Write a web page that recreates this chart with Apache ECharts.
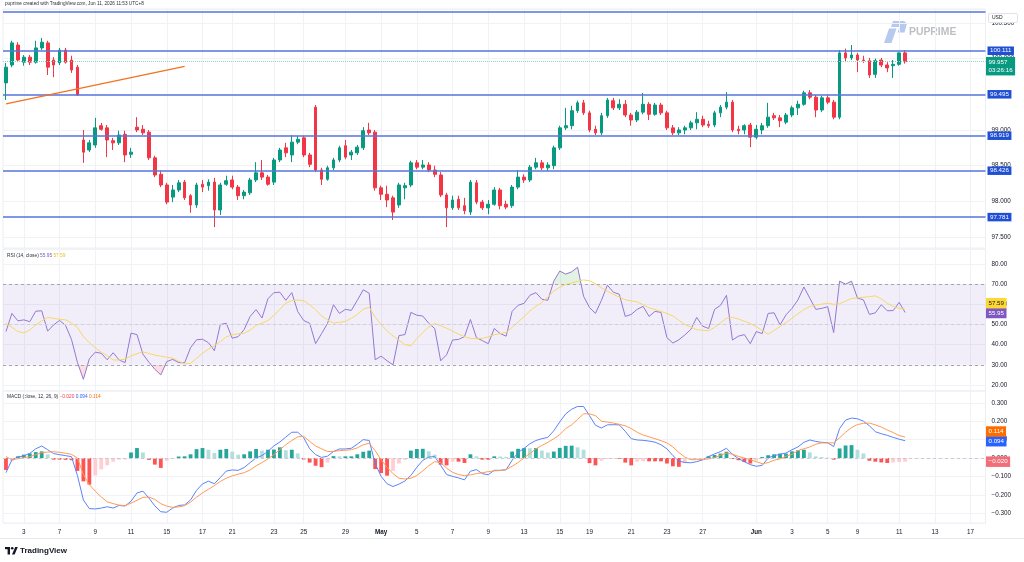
<!DOCTYPE html>
<html>
<head>
<meta charset="utf-8">
<title>USD index 4h</title>
<script src="https://cdn.jsdelivr.net/npm/echarts@6/dist/echarts.min.js"></script>
<style>
  html, body { margin: 0; padding: 0; background: #fff; }
  #chart { width: 1024px; height: 562px; }
</style>
</head>
<body>
<div id="chart"></div>
<script>
// 4h candles, [open, close, low, high]
const candles = [
  [99.66,99.88,99.42,99.94],[99.91,100.22,99.88,100.25],[100.19,99.98,99.95,100.23],[99.95,100.02,99.90,100.05],[100.02,99.95,99.91,100.05],[99.95,100.15,99.93,100.25],[100.15,100.23,100.12,100.29],[100.22,99.88,99.77,100.25],[99.98,99.91,99.74,100.02],[99.94,100.12,99.91,100.15],
  [100.12,99.95,99.93,100.15],[99.98,99.84,99.80,100.04],[99.88,99.49,99.48,99.91],[98.86,98.69,98.54,99.00],[98.72,98.82,98.69,98.86],[98.79,99.03,98.75,99.17],[99.06,99.01,98.99,99.10],[99.03,98.86,98.62,99.07],[98.85,98.82,98.72,98.89],[98.82,98.93,98.79,98.99],
  [98.94,98.65,98.55,98.99],[98.66,98.69,98.61,98.75],[99.04,99.00,98.97,99.18],[99.01,98.96,98.93,99.07],[98.97,98.61,98.58,99.00],[98.61,98.37,98.34,98.64],[98.38,98.23,98.20,98.43],[98.23,97.99,97.96,98.26],[98.06,98.16,97.99,98.23],[98.16,98.26,98.13,98.30],
  [98.27,98.05,98.02,98.30],[98.08,97.95,97.84,98.10],[97.95,98.23,97.91,98.26],[98.24,98.20,98.13,98.30],[98.22,98.27,98.15,98.31],[98.27,97.88,97.64,98.33],[97.88,98.23,97.81,98.26],[98.24,98.29,98.22,98.36],[98.30,98.20,98.17,98.36],[98.20,98.08,98.02,98.23],
  [98.08,98.13,98.03,98.16],[98.12,98.30,98.09,98.33],[98.30,98.40,98.27,98.55],[98.40,98.34,98.30,98.58],[98.34,98.24,98.22,98.37],[98.27,98.58,98.23,98.61],[98.58,98.72,98.55,98.75],[98.75,98.68,98.62,98.82],[98.65,98.83,98.55,98.93],[98.83,98.87,98.80,98.92],
  [98.89,98.65,98.62,98.92],[98.65,98.52,98.48,98.68],[99.32,98.44,98.41,99.35],[98.44,98.31,98.23,98.47],[98.31,98.47,98.29,98.50],[98.47,98.58,98.44,98.61],[98.58,98.75,98.55,98.78],[98.78,98.62,98.59,98.86],[98.65,98.69,98.58,98.72],[98.68,98.76,98.65,98.79],
  [98.75,98.99,98.72,99.04],[99.00,98.96,98.93,99.10],[98.97,98.19,98.15,99.00],[98.19,98.10,98.02,98.22],[98.10,98.02,97.92,98.22],[98.05,97.85,97.74,98.08],[97.95,98.23,97.91,98.26],[98.19,98.22,98.03,98.26],[98.23,98.54,98.20,98.57],[98.54,98.48,98.45,98.58],
  [98.48,98.51,98.45,98.58],[98.51,98.44,98.41,98.55],[98.44,98.38,98.34,98.50],[98.37,98.09,98.06,98.41],[98.09,97.91,97.64,98.12],[97.91,98.02,97.88,98.08],[98.03,97.91,97.88,98.08],[97.94,97.87,97.82,98.05],[97.85,98.27,97.81,98.30],[98.26,97.99,97.96,98.30],
  [97.99,97.91,97.88,98.02],[97.91,97.96,97.82,98.02],[97.96,98.16,97.94,98.20],[98.16,97.94,97.89,98.19],[97.96,97.92,97.89,98.01],[97.94,98.20,97.91,98.23],[98.20,98.34,98.17,98.44],[98.34,98.30,98.26,98.38],[98.30,98.48,98.27,98.51],[98.48,98.54,98.45,98.61],
  [98.54,98.47,98.44,98.58],[98.47,98.51,98.43,98.55],[98.50,98.75,98.45,98.78],[98.75,99.03,98.72,99.06],[99.03,99.06,99.00,99.31],[99.06,99.27,99.01,99.34],[99.27,99.38,99.24,99.41],[99.38,99.24,99.21,99.42],[99.24,99.00,98.97,99.27],[99.01,98.96,98.93,99.06],
  [98.96,99.20,98.93,99.24],[99.20,99.42,99.17,99.45],[99.41,99.31,99.28,99.45],[99.31,99.36,99.28,99.43],[99.36,99.21,99.18,99.42],[99.21,99.14,99.06,99.24],[99.14,99.25,99.11,99.28],[99.25,99.36,99.22,99.52],[99.36,99.22,99.14,99.39],[99.22,99.35,99.20,99.38],
  [99.35,99.24,99.21,99.38],[99.24,99.03,99.00,99.27],[99.03,98.96,98.93,99.07],[98.96,99.00,98.93,99.04],[99.00,99.03,98.94,99.06],[99.03,99.10,99.00,99.13],[99.10,99.15,99.01,99.25],[99.15,99.07,99.04,99.20],[99.08,99.06,99.03,99.13],[99.07,99.24,99.04,99.27],
  [99.24,99.32,99.18,99.35],[99.32,99.39,99.29,99.53],[99.39,99.00,98.97,99.42],[99.01,98.99,98.94,99.06],[99.00,99.06,98.94,99.08],[99.07,98.90,98.76,99.10],[98.90,99.01,98.87,99.07],[99.00,99.06,98.94,99.10],[99.06,99.18,99.03,99.38],[99.20,99.17,99.14,99.24],
  [99.17,99.13,99.04,99.21],[99.11,99.21,99.08,99.24],[99.21,99.31,99.18,99.34],[99.31,99.36,99.21,99.41],[99.36,99.52,99.34,99.55],[99.52,99.46,99.43,99.56],[99.46,99.28,99.18,99.49],[99.28,99.45,99.25,99.48],[99.45,99.39,99.36,99.49],[99.39,99.18,99.15,99.42],
  [99.18,100.08,99.15,100.12],[100.08,100.01,99.95,100.14],[100.01,100.05,99.98,100.19],[100.05,99.98,99.81,100.08],[99.98,99.97,99.94,100.04],[99.97,99.77,99.73,100.01],[99.78,99.97,99.73,100.00],[99.98,99.91,99.88,100.01],[99.91,99.87,99.81,99.95],[99.90,99.92,99.73,99.98],
  [99.92,100.08,99.90,100.09],[100.08,99.957,99.93,100.12]
];

// RSI (14, close) and its moving average
const rsi = [
  46.5,55.5,51.8,52.3,51.4,56.6,56.8,46.7,49.8,52.0,
  49.6,42.6,31.2,22.8,33.0,36.3,35.7,32.5,36.0,32.4,
  31.1,45.7,45.0,35.3,31.3,27.8,25.0,31.6,32.7,31.1,
  31.0,38.5,42.4,42.7,41.0,37.0,50.0,50.6,43.2,44.0,
  47.5,54.0,57.4,53.2,62.8,65.8,66.0,62.0,65.8,56.4,
  52.0,50.6,40.5,45.5,50.5,59.8,55.5,57.5,57.0,62.0,
  67.2,65.5,32.5,34.3,32.0,30.0,44.5,45.0,56.0,54.6,
  54.2,50.6,48.0,32.0,35.0,42.3,42.6,44.0,52.5,43.5,
  42.0,40.5,48.0,45.5,44.2,56.5,59.5,60.5,64.5,65.8,
  62.5,62.0,71.5,76.5,75.0,76.1,78.4,64.0,58.4,55.5,
  62.0,69.5,66.0,65.0,54.0,55.0,57.5,59.0,54.0,56.5,
  56.0,43.5,40.8,42.4,44.8,47.5,53.5,49.2,48.0,57.5,
  59.5,64.5,42.3,44.2,45.0,40.5,46.5,45.5,55.5,55.8,
  49.8,54.8,58.0,62.2,68.6,63.0,57.5,58.0,58.8,46.0,
  71.5,70.0,71.5,63.1,62.2,55.0,55.8,59.8,56.8,56.9,
  61.0,55.95
];
const rsiMa = [
  50.6,48.6,46.5,45.8,47.3,49.8,51.8,53.5,53.0,52.6,
  52.3,50.8,48.5,44.0,41.0,38.4,36.3,34.5,32.4,32.4,
  32.8,34.4,35.5,36.5,35.6,34.8,34.3,33.8,33.3,31.8,
  30.5,30.7,33.2,35.7,37.8,39.4,41.5,43.9,44.8,45.4,
  45.6,47.2,49.6,50.6,52.0,54.5,57.5,60.6,61.8,62.1,
  61.8,59.8,57.4,54.2,52.3,50.7,51.1,51.5,53.1,54.9,
  57.6,58.5,53.6,50.0,46.8,44.3,42.2,40.0,39.4,43.0,
  46.0,48.8,50.5,49.4,48.2,46.7,45.2,44.0,43.1,42.9,
  43.1,43.9,44.9,45.5,46.1,48.6,51.2,53.9,56.8,59.0,
  61.0,63.6,66.6,68.5,69.8,70.6,71.4,72.1,71.7,70.2,
  68.2,66.5,64.9,63.6,62.3,61.7,61.2,59.8,58.3,57.4,
  56.5,55.4,54.2,52.1,50.0,48.7,47.4,47.2,46.9,48.6,
  50.8,53.1,53.5,52.7,51.6,50.5,48.9,47.0,45.2,47.1,
  49.0,51.0,53.1,55.3,57.4,58.9,59.6,60.1,60.6,60.0,
  60.3,61.6,62.9,63.2,63.5,63.8,64.2,62.7,60.5,58.9,
  58.0,57.59
];

// MACD (close, 12, 26, 9)
const macd = [
  -0.080,-0.010,0.005,0.012,0.025,0.050,0.065,0.045,0.024,0.018,
  0.013,0.007,-0.095,-0.228,-0.275,-0.277,-0.272,-0.265,-0.272,-0.258,
  -0.261,-0.235,-0.190,-0.180,-0.218,-0.260,-0.292,-0.295,-0.272,-0.258,
  -0.255,-0.228,-0.176,-0.141,-0.126,-0.140,-0.106,-0.071,-0.065,-0.067,
  -0.052,-0.025,0.000,0.013,0.036,0.066,0.087,0.114,0.140,0.140,
  0.110,0.050,0.018,0.003,0.010,0.035,0.049,0.049,0.053,0.075,
  0.100,0.095,-0.030,-0.100,-0.140,-0.155,-0.142,-0.125,-0.095,-0.050,
  -0.013,0.005,0.008,-0.040,-0.090,-0.100,-0.108,-0.119,-0.072,-0.063,
  -0.085,-0.091,-0.067,-0.067,-0.064,-0.012,0.030,0.052,0.078,0.095,
  0.105,0.112,0.148,0.196,0.240,0.265,0.280,0.280,0.230,0.178,
  0.163,0.180,0.181,0.180,0.145,0.105,0.098,0.096,0.092,0.086,
  0.072,0.050,0.013,-0.017,-0.024,-0.026,-0.020,-0.010,0.008,0.022,
  0.035,0.053,0.020,-0.003,-0.020,-0.036,-0.045,-0.040,0.000,0.013,
  0.020,0.027,0.045,0.060,0.085,0.098,0.090,0.085,0.083,0.062,
  0.160,0.206,0.217,0.213,0.200,0.175,0.143,0.132,0.123,0.112,
  0.102,0.094
];
const signal = [
  0.008,-0.010,-0.004,0.002,0.007,0.018,0.029,0.032,0.034,0.031,
  0.026,0.020,0.000,-0.090,-0.145,-0.180,-0.212,-0.238,-0.248,-0.256,
  -0.259,-0.245,-0.230,-0.214,-0.212,-0.225,-0.248,-0.262,-0.268,-0.266,
  -0.259,-0.240,-0.213,-0.190,-0.170,-0.150,-0.127,-0.110,-0.097,-0.088,
  -0.080,-0.065,-0.043,-0.025,-0.005,0.018,0.045,0.072,0.095,0.115,
  0.118,0.090,0.065,0.050,0.035,0.036,0.040,0.042,0.045,0.055,
  0.072,0.080,0.040,-0.010,-0.050,-0.085,-0.110,-0.114,-0.110,-0.095,
  -0.070,-0.042,-0.020,-0.025,-0.055,-0.078,-0.090,-0.096,-0.092,-0.085,
  -0.080,-0.074,-0.070,-0.068,-0.063,-0.045,-0.025,0.000,0.025,0.050,
  0.068,0.085,0.105,0.127,0.160,0.180,0.210,0.240,0.240,0.230,
  0.200,0.195,0.190,0.183,0.175,0.160,0.140,0.125,0.115,0.105,
  0.094,0.082,0.060,0.030,0.005,-0.009,-0.009,-0.009,-0.005,0.002,
  0.015,0.027,0.020,0.009,0.000,-0.009,-0.020,-0.031,-0.025,-0.012,
  -0.005,0.010,0.020,0.040,0.050,0.060,0.075,0.082,0.082,0.082,
  0.110,0.140,0.165,0.182,0.188,0.190,0.180,0.168,0.152,0.138,
  0.122,0.114
];
const hist = [
  -0.065,-0.015,0.009,0.018,0.025,0.032,0.036,0.020,-0.009,-0.009,
  -0.010,-0.012,-0.070,-0.127,-0.145,-0.095,-0.062,-0.040,-0.020,-0.009,
  -0.008,0.030,0.054,0.030,-0.010,-0.036,-0.054,-0.015,-0.004,0.008,
  0.009,0.020,0.048,0.054,0.045,0.027,0.045,0.049,0.035,0.018,
  0.020,0.036,0.049,0.040,0.045,0.046,0.058,0.042,0.045,0.025,
  -0.008,-0.025,-0.042,-0.050,-0.025,0.010,0.009,0.009,0.009,0.020,
  0.034,0.040,-0.060,-0.082,-0.096,-0.070,-0.030,-0.010,0.040,0.049,
  0.050,0.036,0.018,-0.036,-0.040,-0.020,-0.020,-0.027,0.020,0.009,
  -0.009,-0.009,0.009,0.008,0.006,0.035,0.050,0.054,0.053,0.054,
  0.040,0.030,0.035,0.055,0.066,0.067,0.058,0.045,-0.028,-0.040,
  -0.015,-0.005,-0.003,-0.004,-0.025,-0.040,-0.020,-0.018,-0.018,-0.018,
  -0.018,-0.030,-0.045,-0.048,-0.028,-0.010,-0.005,-0.003,0.010,0.016,
  0.024,0.034,-0.005,-0.012,-0.022,-0.030,-0.014,0.005,0.015,0.020,
  0.024,0.024,0.036,0.042,0.045,0.030,0.009,0.005,0.002,-0.009,
  0.052,0.068,0.070,0.045,0.025,-0.015,-0.020,-0.024,-0.027,-0.024,
  -0.022,-0.020
];

// drawn levels
const levels = [100.111, 99.495, 98.919, 98.426, 97.781];
const topLevel = 100.653;
const trendLine = [[0, 99.366], [30, 99.890]];
const rsiLevels = [30, 50, 70];

// time scale: 165 four-hour slots, day labels on some of them
const slotCount = 165;
const tickIdx = [3, 9, 15, 21, 27, 33, 38, 45, 50, 57, 63, 69, 75, 81, 87, 93, 98, 105, 111, 117, 126, 132, 138, 143, 150, 156, 162];
const tickText = ['3', '7', '9', '11', '15', '17', '21', '23', '25', '29', 'May', '5', '7', '9', '13', '15', '19', '21', '23', '27', 'Jun', '3', '5', '9', '11', '13', '17'];
const countdown = '03:26:16';

const cats = Array.from({ length: slotCount }, (_, i) => String(i));
const tickMap = {};
tickIdx.forEach((k, j) => { tickMap[k] = tickText[j]; });
const isTick = (i) => tickMap[i] !== undefined;
const last = (arr) => arr[arr.length - 1];
const lastClose = last(candles)[1];
const fmtMacd = (v) => (v < 0 ? '\u2212' : '') + Math.abs(v).toFixed(3);

const font = 'Liberation Sans, Arial, sans-serif';
const chart = echarts.init(document.getElementById('chart'));

function xAxisFor(gi, showLabel) {
  return {
    type: 'category', gridIndex: gi, data: cats, boundaryGap: true,
    axisLine: { show: false },
    axisTick: { show: false, alignWithLabel: true },
    axisLabel: {
      show: showLabel, interval: (i) => isTick(i), margin: 6, fontSize: 6.3, color: '#131722',
      formatter: (v) => {
        const t = tickMap[+v];
        if (t === undefined) return '';
        return /^[A-Z]/.test(t) ? '{m|' + t + '}' : t;
      },
      rich: { m: { fontWeight: 'bold', fontSize: 6.3, color: '#131722' } }
    },
    splitLine: { show: true, alignWithLabel: true, interval: (i) => isTick(i), lineStyle: { color: '#f0f2f6', width: 1 } }
  };
}

function yAxisFor(gi, min, max, step, fmt) {
  return {
    type: 'value', gridIndex: gi, position: 'right', min: min, max: max, splitNumber: 5,
    axisLine: { show: false }, axisTick: { show: false },
    axisLabel: {
      margin: 6, fontSize: 6.3, color: '#131722', showMinLabel: false, showMaxLabel: false,
      formatter: (v) => Math.abs(v / step - Math.round(v / step)) > 1e-6 ? '' : fmt(v)
    },
    splitLine: { lineStyle: { color: '#f0f2f6', width: 1 } }
  };
}

// value tag on the right price scale
function tag(value, bg, fg, text, dy) {
  return {
    coord: [slotCount - 1, value],
    symbol: 'rect', symbolSize: 1, itemStyle: { color: 'rgba(0,0,0,0)' },
    label: {
      show: true, position: 'right', distance: 3, offset: [0, dy],
      formatter: text, backgroundColor: bg, color: fg, fontSize: 6.2, lineHeight: 8,
      padding: [1.5, 2.5, 1, 2.5], fontFamily: font
    }
  };
}

const levelLabel = {
  show: true, position: 'end', distance: 2, color: '#fff', backgroundColor: '#1f4fd4',
  fontSize: 6.2, padding: [1.5, 2.5, 1, 2.5], fontFamily: font
};

const gridBase = { left: 3, right: 38.5, show: true, borderColor: '#eceef2', borderWidth: 1, outerBoundsMode: 'none' };

const option = {
  animation: false,
  textStyle: { fontFamily: font },
  grid: [
    Object.assign({ top: 9, height: 239 }, gridBase),
    Object.assign({ top: 249, height: 142 }, gridBase),
    Object.assign({ top: 391, height: 132 }, gridBase)
  ],
  xAxis: [xAxisFor(0, false), xAxisFor(1, false), xAxisFor(2, true)],
  yAxis: [
    yAxisFor(0, 97.3473, 100.6947, 0.5, (v) => v.toFixed(3)),
    yAxisFor(1, 17.02, 87.44, 10, (v) => v.toFixed(2)),
    yAxisFor(2, -0.3533, 0.3641, 0.1, fmtMacd)
  ],
  visualMap: [
    {
      type: 'piecewise', show: false, seriesIndex: 6, dimension: 1,
      pieces: [{ gt: rsiLevels[2], lte: 100, color: 'rgba(76,175,80,0.16)' }], outOfRange: { color: 'rgba(0,0,0,0)' }
    },
    {
      type: 'piecewise', show: false, seriesIndex: 7, dimension: 1,
      pieces: [{ gte: 0, lt: rsiLevels[0], color: 'rgba(242,54,69,0.16)' }], outOfRange: { color: 'rgba(0,0,0,0)' }
    }
  ],
  series: [
    {
      name: 'price', type: 'candlestick', xAxisIndex: 0, yAxisIndex: 0, data: candles, barWidth: 3.2,
      itemStyle: { color: '#089981', color0: '#f23645', borderColor: '#089981', borderColor0: '#f23645', borderWidth: 1 },
      markLine: {
        silent: true, symbol: ['none', 'none'], animation: false,
        data: [
          ...levels.map((v) => ({
            yAxis: v, lineStyle: { color: '#5675dc', width: 1.5, type: 'solid' },
            label: Object.assign({ formatter: v.toFixed(3) }, levelLabel)
          })),
          { yAxis: topLevel, lineStyle: { color: '#5675dc', width: 1.5, type: 'solid' }, label: { show: false } },
          { yAxis: lastClose, lineStyle: { color: '#8fd4c9', width: 1, type: 'dotted' }, label: { show: false } },
          [
            { coord: trendLine[0], lineStyle: { color: '#f3711f', width: 1.2, type: 'solid' }, label: { show: false } },
            { coord: trendLine[1], label: { show: false } }
          ]
        ]
      },
      markPoint: {
        silent: true, animation: false,
        data: [tag(lastClose, '#089981', '#fff', lastClose.toFixed(3) + '\n' + countdown, 4.5)]
      }
    },
    {
      name: 'RSI', type: 'line', xAxisIndex: 1, yAxisIndex: 1, data: rsi, symbol: 'none', z: 3,
      lineStyle: { color: '#9377d2', width: 1 },
      markArea: {
        silent: true, itemStyle: { color: 'rgba(126,87,194,0.10)' },
        data: [[{ yAxis: rsiLevels[0] }, { yAxis: rsiLevels[2] }]]
      },
      markLine: {
        silent: true, symbol: ['none', 'none'], animation: false, label: { show: false },
        data: [
          { yAxis: rsiLevels[2], lineStyle: { color: '#a3a6af', width: 1, type: [3, 3] } },
          { yAxis: rsiLevels[1], lineStyle: { color: '#cfd1d8', width: 1, type: [3, 3] } },
          { yAxis: rsiLevels[0], lineStyle: { color: '#a3a6af', width: 1, type: [3, 3] } }
        ]
      },
      markPoint: { silent: true, animation: false, data: [tag(last(rsi), '#7e57c2', '#fff', last(rsi).toFixed(2), 0.5)] }
    },
    {
      name: 'RSI MA', type: 'line', xAxisIndex: 1, yAxisIndex: 1, data: rsiMa, symbol: 'none', z: 3,
      lineStyle: { color: '#f6d765', width: 1 },
      markPoint: { silent: true, animation: false, data: [tag(last(rsiMa), '#fdd835', '#131722', last(rsiMa).toFixed(2), -6)] }
    },
    {
      name: 'Histogram', type: 'bar', xAxisIndex: 2, yAxisIndex: 2, data: hist, barWidth: 3.8,
      itemStyle: {
        color: (p) => {
          const v = hist[p.dataIndex];
          const prev = p.dataIndex > 0 ? hist[p.dataIndex - 1] : v;
          if (v >= 0) return v >= prev ? '#26a69a' : '#b2dfdb';
          return v <= prev ? '#ff5252' : '#ffcdd2';
        }
      },
      markLine: {
        silent: true, symbol: ['none', 'none'], animation: false, label: { show: false },
        data: [{ yAxis: 0, lineStyle: { color: '#c9cbd2', width: 1, type: [3, 3] } }]
      },
      markPoint: { silent: true, animation: false, data: [tag(last(hist), '#f26d77', '#fff', fmtMacd(last(hist)), 0)] }
    },
    {
      name: 'MACD', type: 'line', xAxisIndex: 2, yAxisIndex: 2, data: macd, symbol: 'none',
      lineStyle: { color: '#5a82fb', width: 1 },
      markPoint: { silent: true, animation: false, data: [tag(last(macd), '#2962ff', '#fff', fmtMacd(last(macd)), 0.5)] }
    },
    {
      name: 'Signal', type: 'line', xAxisIndex: 2, yAxisIndex: 2, data: signal, symbol: 'none',
      lineStyle: { color: '#ff9a52', width: 1 },
      markPoint: { silent: true, animation: false, data: [tag(last(signal), '#ff6d00', '#fff', fmtMacd(last(signal)), -5.5)] }
    },
    {
      name: 'RSI overbought', type: 'line', xAxisIndex: 1, yAxisIndex: 1, data: rsi, symbol: 'none', z: 1,
      lineStyle: { width: 0 }, areaStyle: { origin: rsiLevels[2], opacity: 1 }, silent: true
    },
    {
      name: 'RSI oversold', type: 'line', xAxisIndex: 1, yAxisIndex: 1, data: rsi, symbol: 'none', z: 1,
      lineStyle: { width: 0 }, areaStyle: { origin: rsiLevels[0], opacity: 1 }, silent: true
    }
  ],
  graphic: [
    {
      type: 'text', x: 5, y: 1.5,
      style: { text: 'puprime created with TradingView.com, Jun 11, 2026 11:53 UTC+8', fill: '#2a2e39', font: '4.7px ' + font, textVerticalAlign: 'top', verticalAlign: 'top' }
    },
    {
      type: 'rect', shape: { x: 988.5, y: 13.5, width: 29, height: 9, r: 1.5 },
      style: { fill: '#fff', stroke: '#e0e3eb', lineWidth: 1 }, z: 100
    },
    {
      type: 'text', x: 992, y: 18, z: 101,
      style: { text: 'USD', fill: '#131722', font: '5px ' + font, textVerticalAlign: 'middle', verticalAlign: 'middle' }
    },
    {
      type: 'polygon', shape: { points: [[889, 28.5], [896.5, 28.5], [891.5, 43], [884, 43]] },
      style: { fill: '#b7c9ef' }
    },
    {
      type: 'polygon', shape: { points: [[893, 21], [904, 21], [907, 23.5], [904.5, 32.5], [897.5, 32.5], [899.5, 27], [891, 27]] },
      style: { fill: '#b7c9ef' }
    },
    {
      type: 'text', x: 909, y: 32.5,
      style: { text: 'PUPRIME', fill: '#bdbfc3', font: 'bold 10.4px ' + font, textVerticalAlign: 'middle', verticalAlign: 'middle' }
    },
    {
      type: 'text', x: 7, y: 256,
      style: {
        text: '{a|RSI (14, close)} {b|' + last(rsi).toFixed(2) + '} {c|' + last(rsiMa).toFixed(2) + '}',
        font: '4.8px ' + font, textVerticalAlign: 'middle', verticalAlign: 'middle',
        rich: {
          a: { fill: '#2a2e39', color: '#2a2e39', font: '4.8px ' + font },
          b: { fill: '#7e57c2', color: '#7e57c2', font: '4.8px ' + font },
          c: { fill: '#e8c31c', color: '#e8c31c', font: '4.8px ' + font }
        }
      }
    },
    {
      type: 'text', x: 7, y: 397,
      style: {
        text: '{a|MACD (close, 12, 26, 9)} {h|' + fmtMacd(last(hist)) + '} {m|' + fmtMacd(last(macd)) + '} {s|' + fmtMacd(last(signal)) + '}',
        font: '4.8px ' + font, textVerticalAlign: 'middle', verticalAlign: 'middle',
        rich: {
          a: { fill: '#2a2e39', color: '#2a2e39', font: '4.8px ' + font },
          h: { fill: '#f23645', color: '#f23645', font: '4.8px ' + font },
          m: { fill: '#2962ff', color: '#2962ff', font: '4.8px ' + font },
          s: { fill: '#ff6d00', color: '#ff6d00', font: '4.8px ' + font }
        }
      }
    },
    {
      type: 'line', shape: { x1: 0, y1: 538.5, x2: 1024, y2: 538.5 },
      style: { stroke: '#e6e8ee', lineWidth: 1 }
    },
    { type: 'rect', shape: { x: 5, y: 547, width: 5, height: 2.2 }, style: { fill: '#131722' } },
    { type: 'rect', shape: { x: 7.6, y: 547, width: 2.4, height: 7.5 }, style: { fill: '#131722' } },
    { type: 'circle', shape: { cx: 12.2, cy: 548.3, r: 1.3 }, style: { fill: '#131722' } },
    { type: 'polygon', shape: { points: [[15.2, 547], [17.8, 547], [14.6, 554.5], [12, 554.5]] }, style: { fill: '#131722' } },
    {
      type: 'text', x: 20, y: 551,
      style: { text: 'TradingView', fill: '#131722', font: 'bold 8px ' + font, textVerticalAlign: 'middle', verticalAlign: 'middle' }
    }
  ]
};

chart.setOption(option);
</script>
</body>
</html>
